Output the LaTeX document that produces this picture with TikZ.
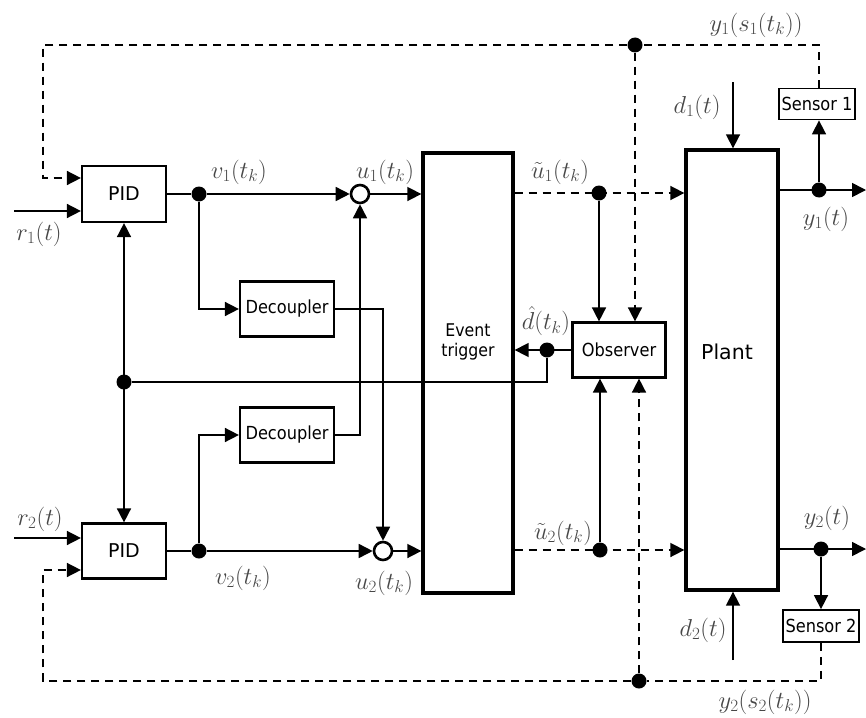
\RequirePackage{fix-cm}
\documentclass[tikz,border=0pt]{standalone}
\usepackage{amsmath, amssymb}
\usepackage{fontspec}
\newfontfamily\blockfont[FakeStretch=0.9]{DejaVu Sans}
\newfontfamily\pidfont{DejaVu Sans}
\usetikzlibrary{arrows.meta}

\begin{document}
\begin{tikzpicture}[x=1pt, y=-1pt,
  >={Triangle[length=14pt,width=14pt]},
  block/.style={draw, line width=2.2pt, inner sep=0pt,
    font=\blockfont\fontsize{18}{20}\selectfont},
  bigblock/.style={block, line width=3.3pt},
  wire/.style={line width=1.6pt},
  sig/.style={wire, ->},
  meas/.style={dash pattern=on 8pt off 6pt},
  junc/.style={circle, fill, inner sep=0pt, minimum size=15pt},
  sumnode/.style={circle, draw, line width=2.6pt, fill=white, inner sep=0pt, minimum size=18pt},
  lbl/.style={text=black!72, inner sep=0pt, font=\fontsize{24.5}{28}\selectfont}]

\useasboundingbox (0,0) rectangle (866,717);

% Controllers
\node[block, minimum width=84pt, minimum height=56pt,
  font=\pidfont\fontsize{19}{21}\selectfont] (pid1) at (124,194) {PID};
\node[block, minimum width=84pt, minimum height=55pt,
  font=\pidfont\fontsize{19}{21}\selectfont] (pid2) at (124,551) {PID};

% Decouplers
\node[block, minimum width=94pt, minimum height=55pt] (dec1) at (287,309) {Decoupler};
\node[block, minimum width=94pt, minimum height=55pt] (dec2) at (287,435) {Decoupler};

% Event trigger, observer, plant
\node[bigblock, minimum width=90pt, minimum height=440pt] (trig) at (468,373) {};
\node[align=center, font=\blockfont\fontsize{17.5}{20}\selectfont] (trigl) at (468,342) {Event\\trigger};
\node[block, minimum width=93pt, minimum height=55pt] (obs) at (619,350) {Observer};
\node[bigblock, minimum width=92pt, minimum height=440pt] (plant) at (732,370) {};
\node[font=\pidfont\fontsize{20.5}{24}\selectfont] (plantl) at (727,352) {Plant};

% Sensors
\node[block, line width=1.8pt, minimum width=76pt, minimum height=31pt] (sen1) at (817,104) {Sensor 1};
\node[block, line width=1.8pt, minimum width=76pt, minimum height=32pt] (sen2) at (821,626) {Sensor 2};

% Junctions
\node[junc] (j1) at (199,194) {};
\node[junc] (j2) at (199,551) {};
\node[junc] (jd) at (124,382) {};
\node[junc] (jh) at (547,350) {};
\node[junc] (ju1) at (599,193) {};
\node[junc] (ju2) at (600,550) {};
\node[junc] (jy1) at (819,190) {};
\node[junc] (jy2) at (821,549) {};
\node[junc] (js1) at (635,45) {};
\node[junc] (js2) at (639,681) {};

% Summing points
\node[sumnode] (s1) at (360,194) {};
\node[sumnode] (s2) at (383,551) {};

% Free ends
\coordinate (r1) at (14,211);
\coordinate (r2) at (14,538);
\coordinate (out1) at (866,190);
\coordinate (out2) at (866,549);
\coordinate (d1) at (733,82);
\coordinate (d2) at (733,660);
\coordinate (c1) at (43,45);
\coordinate (c2) at (43,681);

% Upper loop
\draw[sig] (r1) -- (r1 -| pid1.west);
\draw[wire] (pid1.east) -- (j1);
\draw[sig] (j1) -- (s1);
\draw[sig] (s1) -- (s1 -| trig.west);
\draw[sig] (j1) |- (dec1.west);
\draw[sig] (dec1.east) -| (s2.north);

% Lower loop
\draw[sig] (r2) -- (r2 -| pid2.west);
\draw[wire] (pid2.east) -- (j2);
\draw[sig] (j2) -- (s2);
\draw[sig] (s2) -- (s2 -| trig.west);
\draw[sig] (j2) |- (dec2.west);
\draw[sig] (dec2.east) -| (s1.south);

% Disturbance estimate
\draw[wire, <->] (pid1.south) -- (pid2.north);
\draw[wire] (jd) -- (jd -| jh) -- (jh);
\draw[sig] (obs.west) -- (jh -| trig.east);

% Sampled inputs
\draw[sig, meas] (ju1 -| trig.east) -- (ju1 -| plant.west);
\draw[sig, meas] (ju2 -| trig.east) -- (ju2 -| plant.west);
\draw[sig] (ju1) -- (ju1 |- obs.north);
\draw[sig] (ju2) -- (ju2 |- obs.south);
\draw[sig, meas] (js1) -- (js1 |- obs.north);
\draw[sig, meas] (js2) -- (js2 |- obs.south);

% Plant outputs and disturbances
\draw[sig] (plant.east |- jy1) -- (out1);
\draw[sig] (plant.east |- jy2) -- (out2);
\draw[sig] (jy1) -- (jy1 |- sen1.south);
\draw[sig] (jy2) -- (jy2 |- sen2.north);
\draw[sig] (d1) -- (d1 |- plant.north);
\draw[sig] (d2) -- (d2 |- plant.south);

% Measurement feedback
\draw[sig, meas] (jy1 |- sen1.north) |- (js1) -- (c1) |- ([yshift=16pt]pid1.west);
\draw[sig, meas] (jy2 |- sen2.south) |- (js2) -- (c2) |- ([yshift=-19pt]pid2.west);

% Labels
\node[lbl] (lr1) at (39,234) {$r_1(t)$};
\node[lbl] (lr2) at (40,519) {$r_2(t)$};
\node[lbl] (lv1) at (239,172) {$v_1(t_k)$};
\node[lbl] (lv2) at (243,578) {$v_2(t_k)$};
\node[lbl] (lu1) at (385,172) {$u_1(t_k)$};
\node[lbl] (lu2) at (384,583) {$u_2(t_k)$};
\node[lbl] (lt1) at (560,172) {$\tilde{u}_1(t_k)$};
\node[lbl] (lt2) at (563,533) {$\tilde{u}_2(t_k)$};
\node[lbl] (ldh) at (546,321) {$\hat{d}(t_k)$};
\node[lbl] (ld1) at (697,107) {$d_1(t)$};
\node[lbl] (ld2) at (703,630) {$d_2(t)$};
\node[lbl] (ly1) at (826,219) {$y_1(t)$};
\node[lbl] (ly2) at (827,518) {$y_2(t)$};
\node[lbl] (ls1) at (756,25) {$y_1(s_1(t_k))$};
\node[lbl] (ls2) at (765,702) {$y_2(s_2(t_k))$};

\end{tikzpicture}
\end{document}
